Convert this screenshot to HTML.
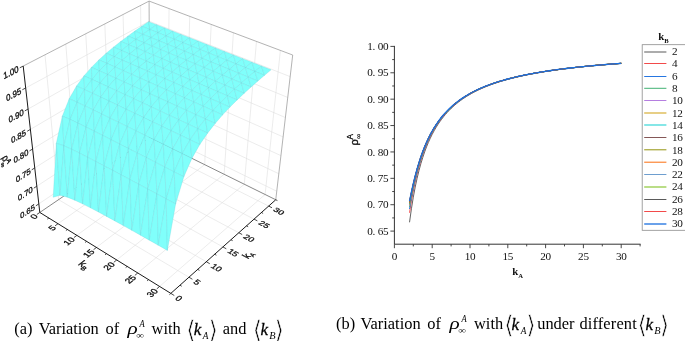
<!DOCTYPE html>
<html lang="en"><head><meta charset="utf-8"><title>Figure</title>
<style>html,body{margin:0;padding:0;background:#fff}svg{display:block}</style></head>
<body>
<svg width="685" height="341" viewBox="0 0 685 341">
<rect width="685" height="341" fill="#fff"/>
<g id="plot3d" fill="none" stroke-linecap="butt">
<line x1="58.02" y1="223.71" x2="167.50" y2="146.30" stroke="#dcdcdc" stroke-width="0.55"/>
<line x1="58.58" y1="199.66" x2="188.97" y2="277.21" stroke="#dcdcdc" stroke-width="0.55"/>
<line x1="76.89" y1="235.37" x2="185.80" y2="155.34" stroke="#dcdcdc" stroke-width="0.55"/>
<line x1="76.62" y1="187.37" x2="206.31" y2="261.73" stroke="#dcdcdc" stroke-width="0.55"/>
<line x1="96.44" y1="247.44" x2="204.68" y2="164.66" stroke="#dcdcdc" stroke-width="0.55"/>
<line x1="93.97" y1="175.55" x2="222.91" y2="246.92" stroke="#dcdcdc" stroke-width="0.55"/>
<line x1="116.71" y1="259.97" x2="224.17" y2="174.28" stroke="#dcdcdc" stroke-width="0.55"/>
<line x1="110.66" y1="164.18" x2="238.80" y2="232.73" stroke="#dcdcdc" stroke-width="0.55"/>
<line x1="137.75" y1="272.96" x2="244.30" y2="184.22" stroke="#dcdcdc" stroke-width="0.55"/>
<line x1="126.74" y1="153.23" x2="254.04" y2="219.13" stroke="#dcdcdc" stroke-width="0.55"/>
<line x1="159.59" y1="286.45" x2="265.10" y2="194.49" stroke="#dcdcdc" stroke-width="0.55"/>
<line x1="142.22" y1="142.68" x2="268.67" y2="206.08" stroke="#dcdcdc" stroke-width="0.55"/>
<line x1="58.58" y1="199.66" x2="45.00" y2="54.80" stroke="#dcdcdc" stroke-width="0.55"/>
<line x1="167.50" y1="146.30" x2="169.07" y2="8.60" stroke="#dcdcdc" stroke-width="0.55"/>
<line x1="76.62" y1="187.37" x2="65.82" y2="44.05" stroke="#dcdcdc" stroke-width="0.55"/>
<line x1="185.80" y1="155.34" x2="189.76" y2="16.37" stroke="#dcdcdc" stroke-width="0.55"/>
<line x1="93.97" y1="175.55" x2="85.74" y2="33.78" stroke="#dcdcdc" stroke-width="0.55"/>
<line x1="204.68" y1="164.66" x2="211.20" y2="24.42" stroke="#dcdcdc" stroke-width="0.55"/>
<line x1="110.66" y1="164.18" x2="104.81" y2="23.94" stroke="#dcdcdc" stroke-width="0.55"/>
<line x1="224.17" y1="174.28" x2="233.42" y2="32.76" stroke="#dcdcdc" stroke-width="0.55"/>
<line x1="126.74" y1="153.23" x2="123.07" y2="14.51" stroke="#dcdcdc" stroke-width="0.55"/>
<line x1="244.30" y1="184.22" x2="256.47" y2="41.42" stroke="#dcdcdc" stroke-width="0.55"/>
<line x1="142.22" y1="142.68" x2="140.59" y2="5.47" stroke="#dcdcdc" stroke-width="0.55"/>
<line x1="265.10" y1="194.49" x2="280.40" y2="50.40" stroke="#dcdcdc" stroke-width="0.55"/>
<line x1="38.83" y1="203.85" x2="149.72" y2="129.40" stroke="#dcdcdc" stroke-width="0.55"/>
<line x1="149.72" y1="129.40" x2="276.76" y2="191.22" stroke="#dcdcdc" stroke-width="0.55"/>
<line x1="36.82" y1="186.20" x2="149.64" y2="112.73" stroke="#dcdcdc" stroke-width="0.55"/>
<line x1="149.64" y1="112.73" x2="278.81" y2="173.73" stroke="#dcdcdc" stroke-width="0.55"/>
<line x1="34.75" y1="167.93" x2="149.55" y2="95.56" stroke="#dcdcdc" stroke-width="0.55"/>
<line x1="149.55" y1="95.56" x2="280.93" y2="155.64" stroke="#dcdcdc" stroke-width="0.55"/>
<line x1="32.60" y1="149.01" x2="149.46" y2="77.84" stroke="#dcdcdc" stroke-width="0.55"/>
<line x1="149.46" y1="77.84" x2="283.12" y2="136.92" stroke="#dcdcdc" stroke-width="0.55"/>
<line x1="30.38" y1="129.40" x2="149.37" y2="59.57" stroke="#dcdcdc" stroke-width="0.55"/>
<line x1="149.37" y1="59.57" x2="285.39" y2="117.54" stroke="#dcdcdc" stroke-width="0.55"/>
<line x1="28.07" y1="109.06" x2="149.28" y2="40.71" stroke="#dcdcdc" stroke-width="0.55"/>
<line x1="149.28" y1="40.71" x2="287.74" y2="97.45" stroke="#dcdcdc" stroke-width="0.55"/>
<line x1="25.68" y1="87.96" x2="149.18" y2="21.22" stroke="#dcdcdc" stroke-width="0.55"/>
<line x1="149.18" y1="21.22" x2="290.18" y2="76.63" stroke="#dcdcdc" stroke-width="0.55"/>
<line x1="23.19" y1="66.05" x2="149.08" y2="1.09" stroke="#999" stroke-width="0.75"/>
<line x1="149.08" y1="1.09" x2="292.71" y2="55.02" stroke="#999" stroke-width="0.75"/>
<line x1="149.08" y1="1.09" x2="149.76" y2="137.54" stroke="#999" stroke-width="0.75"/>
<line x1="292.71" y1="55.02" x2="275.76" y2="199.75" stroke="#999" stroke-width="0.75"/>
<line x1="39.80" y1="212.46" x2="149.76" y2="137.54" stroke="#7a7a7a" stroke-width="0.9"/>
<line x1="149.76" y1="137.54" x2="275.76" y2="199.75" stroke="#7a7a7a" stroke-width="0.9"/>
<g stroke="#6bd4da" stroke-width="0.3" stroke-linejoin="round" fill="#80fffb">
<polygon points="141.78,26.31 149.75,29.46 148.60,21.71"/>
<polygon points="149.75,29.46 156.56,24.81 148.60,21.71"/>
<polygon points="134.86,31.11 142.85,34.31 141.78,26.31"/>
<polygon points="142.85,34.31 149.75,29.46 141.78,26.31"/>
<polygon points="149.75,29.46 157.84,32.68 156.56,24.81"/>
<polygon points="157.84,32.68 164.63,27.98 156.56,24.81"/>
<polygon points="127.85,36.15 135.84,39.40 134.86,31.11"/>
<polygon points="135.84,39.40 142.85,34.31 134.86,31.11"/>
<polygon points="142.85,34.31 150.94,37.58 149.75,29.46"/>
<polygon points="150.94,37.58 157.84,32.68 149.75,29.46"/>
<polygon points="157.84,32.68 166.03,35.95 164.63,27.98"/>
<polygon points="166.03,35.95 172.81,31.19 164.63,27.98"/>
<polygon points="120.73,41.47 128.73,44.77 127.85,36.15"/>
<polygon points="128.73,44.77 135.84,39.40 127.85,36.15"/>
<polygon points="135.84,39.40 143.94,42.73 142.85,34.31"/>
<polygon points="143.94,42.73 150.94,37.58 142.85,34.31"/>
<polygon points="150.94,37.58 159.15,40.91 157.84,32.68"/>
<polygon points="159.15,40.91 166.03,35.95 157.84,32.68"/>
<polygon points="166.03,35.95 174.35,39.27 172.81,31.19"/>
<polygon points="174.35,39.27 181.11,34.45 172.81,31.19"/>
<polygon points="113.52,47.14 121.53,50.50 120.73,41.47"/>
<polygon points="121.53,50.50 128.73,44.77 120.73,41.47"/>
<polygon points="128.73,44.77 136.84,48.17 135.84,39.40"/>
<polygon points="136.84,48.17 143.94,42.73 135.84,39.40"/>
<polygon points="143.94,42.73 152.17,46.12 150.94,37.58"/>
<polygon points="152.17,46.12 159.15,40.91 150.94,37.58"/>
<polygon points="159.15,40.91 167.48,44.29 166.03,35.95"/>
<polygon points="167.48,44.29 174.35,39.27 166.03,35.95"/>
<polygon points="174.35,39.27 182.78,42.63 181.11,34.45"/>
<polygon points="182.78,42.63 189.53,37.76 181.11,34.45"/>
<polygon points="106.23,53.26 114.23,56.66 113.52,47.14"/>
<polygon points="114.23,56.66 121.53,50.50 113.52,47.14"/>
<polygon points="121.53,50.50 129.65,53.95 128.73,44.77"/>
<polygon points="129.65,53.95 136.84,48.17 128.73,44.77"/>
<polygon points="136.84,48.17 145.08,51.62 143.94,42.73"/>
<polygon points="145.08,51.62 152.17,46.12 143.94,42.73"/>
<polygon points="152.17,46.12 160.51,49.56 159.15,40.91"/>
<polygon points="160.51,49.56 167.48,44.29 159.15,40.91"/>
<polygon points="167.48,44.29 175.93,47.72 174.35,39.27"/>
<polygon points="175.93,47.72 182.78,42.63 174.35,39.27"/>
<polygon points="182.78,42.63 191.34,46.05 189.53,37.76"/>
<polygon points="191.34,46.05 198.06,41.12 189.53,37.76"/>
<polygon points="98.86,59.94 106.86,63.39 106.23,53.26"/>
<polygon points="106.86,63.39 114.23,56.66 106.23,53.26"/>
<polygon points="114.23,56.66 122.35,60.18 121.53,50.50"/>
<polygon points="122.35,60.18 129.65,53.95 121.53,50.50"/>
<polygon points="129.65,53.95 137.88,57.47 136.84,48.17"/>
<polygon points="137.88,57.47 145.08,51.62 136.84,48.17"/>
<polygon points="145.08,51.62 153.43,55.12 152.17,46.12"/>
<polygon points="153.43,55.12 160.51,49.56 152.17,46.12"/>
<polygon points="160.51,49.56 168.97,53.05 167.48,44.29"/>
<polygon points="168.97,53.05 175.93,47.72 167.48,44.29"/>
<polygon points="175.93,47.72 184.50,51.20 182.78,42.63"/>
<polygon points="184.50,51.20 191.34,46.05 182.78,42.63"/>
<polygon points="191.34,46.05 200.02,49.52 198.06,41.12"/>
<polygon points="200.02,49.52 206.72,44.52 198.06,41.12"/>
<polygon points="91.43,67.39 99.42,70.88 98.86,59.94"/>
<polygon points="99.42,70.88 106.86,63.39 98.86,59.94"/>
<polygon points="106.86,63.39 114.98,66.97 114.23,56.66"/>
<polygon points="114.98,66.97 122.35,60.18 114.23,56.66"/>
<polygon points="122.35,60.18 130.60,63.76 129.65,53.95"/>
<polygon points="130.60,63.76 137.88,57.47 129.65,53.95"/>
<polygon points="137.88,57.47 146.24,61.04 145.08,51.62"/>
<polygon points="146.24,61.04 153.43,55.12 145.08,51.62"/>
<polygon points="153.43,55.12 161.90,58.68 160.51,49.56"/>
<polygon points="161.90,58.68 168.97,53.05 160.51,49.56"/>
<polygon points="168.97,53.05 177.56,56.60 175.93,47.72"/>
<polygon points="177.56,56.60 184.50,51.20 175.93,47.72"/>
<polygon points="184.50,51.20 193.20,54.74 191.34,46.05"/>
<polygon points="193.20,54.74 200.02,49.52 191.34,46.05"/>
<polygon points="200.02,49.52 208.83,53.04 206.72,44.52"/>
<polygon points="208.83,53.04 215.51,47.98 206.72,44.52"/>
<polygon points="83.97,75.92 91.94,79.44 91.43,67.39"/>
<polygon points="91.94,79.44 99.42,70.88 91.43,67.39"/>
<polygon points="99.42,70.88 107.53,74.52 106.86,63.39"/>
<polygon points="107.53,74.52 114.98,66.97 106.86,63.39"/>
<polygon points="114.98,66.97 123.22,70.62 122.35,60.18"/>
<polygon points="123.22,70.62 130.60,63.76 122.35,60.18"/>
<polygon points="130.60,63.76 138.96,67.40 137.88,57.47"/>
<polygon points="138.96,67.40 146.24,61.04 137.88,57.47"/>
<polygon points="146.24,61.04 154.73,64.67 153.43,55.12"/>
<polygon points="154.73,64.67 161.90,58.68 153.43,55.12"/>
<polygon points="161.90,58.68 170.50,62.30 168.97,53.05"/>
<polygon points="170.50,62.30 177.56,56.60 168.97,53.05"/>
<polygon points="177.56,56.60 186.27,60.20 184.50,51.20"/>
<polygon points="186.27,60.20 193.20,54.74 184.50,51.20"/>
<polygon points="193.20,54.74 202.03,58.32 200.02,49.52"/>
<polygon points="202.03,58.32 208.83,53.04 200.02,49.52"/>
<polygon points="208.83,53.04 217.76,56.61 215.51,47.98"/>
<polygon points="217.76,56.61 224.43,51.49 215.51,47.98"/>
<polygon points="76.55,86.06 84.49,89.58 83.97,75.92"/>
<polygon points="84.49,89.58 91.94,79.44 83.97,75.92"/>
<polygon points="91.94,79.44 100.04,83.14 99.42,70.88"/>
<polygon points="100.04,83.14 107.53,74.52 99.42,70.88"/>
<polygon points="107.53,74.52 115.77,78.24 114.98,66.97"/>
<polygon points="115.77,78.24 123.22,70.62 114.98,66.97"/>
<polygon points="123.22,70.62 131.58,74.33 130.60,63.76"/>
<polygon points="131.58,74.33 138.96,67.40 130.60,63.76"/>
<polygon points="138.96,67.40 147.45,71.10 146.24,61.04"/>
<polygon points="147.45,71.10 154.73,64.67 146.24,61.04"/>
<polygon points="154.73,64.67 163.34,68.35 161.90,58.68"/>
<polygon points="163.34,68.35 170.50,62.30 161.90,58.68"/>
<polygon points="170.50,62.30 179.23,65.97 177.56,56.60"/>
<polygon points="179.23,65.97 186.27,60.20 177.56,56.60"/>
<polygon points="186.27,60.20 195.11,63.86 193.20,54.74"/>
<polygon points="195.11,63.86 202.03,58.32 193.20,54.74"/>
<polygon points="202.03,58.32 210.98,61.96 208.83,53.04"/>
<polygon points="210.98,61.96 217.76,56.61 208.83,53.04"/>
<polygon points="217.76,56.61 226.83,60.24 224.43,51.49"/>
<polygon points="226.83,60.24 233.47,55.04 224.43,51.49"/>
<polygon points="69.26,98.80 77.14,102.26 76.55,86.06"/>
<polygon points="77.14,102.26 84.49,89.58 76.55,86.06"/>
<polygon points="84.49,89.58 92.56,93.33 91.94,79.44"/>
<polygon points="92.56,93.33 100.04,83.14 91.94,79.44"/>
<polygon points="100.04,83.14 108.26,86.93 107.53,74.52"/>
<polygon points="108.26,86.93 115.77,78.24 107.53,74.52"/>
<polygon points="115.77,78.24 124.13,82.03 123.22,70.62"/>
<polygon points="124.13,82.03 131.58,74.33 123.22,70.62"/>
<polygon points="131.58,74.33 140.07,78.10 138.96,67.40"/>
<polygon points="140.07,78.10 147.45,71.10 138.96,67.40"/>
<polygon points="147.45,71.10 156.07,74.86 154.73,64.67"/>
<polygon points="156.07,74.86 163.34,68.35 154.73,64.67"/>
<polygon points="163.34,68.35 172.08,72.09 170.50,62.30"/>
<polygon points="172.08,72.09 179.23,65.97 170.50,62.30"/>
<polygon points="179.23,65.97 188.09,69.69 186.27,60.20"/>
<polygon points="188.09,69.69 195.11,63.86 186.27,60.20"/>
<polygon points="195.11,63.86 204.09,67.56 202.03,58.32"/>
<polygon points="204.09,67.56 210.98,61.96 202.03,58.32"/>
<polygon points="210.98,61.96 220.08,65.66 217.76,56.61"/>
<polygon points="220.08,65.66 226.83,60.24 217.76,56.61"/>
<polygon points="226.83,60.24 236.04,63.92 233.47,55.04"/>
<polygon points="236.04,63.92 242.66,58.66 233.47,55.04"/>
<polygon points="62.33,116.19 70.11,119.42 69.26,98.80"/>
<polygon points="70.11,119.42 77.14,102.26 69.26,98.80"/>
<polygon points="77.14,102.26 85.17,106.05 84.49,89.58"/>
<polygon points="85.17,106.05 92.56,93.33 84.49,89.58"/>
<polygon points="92.56,93.33 100.76,97.20 100.04,83.14"/>
<polygon points="100.76,97.20 108.26,86.93 100.04,83.14"/>
<polygon points="108.26,86.93 116.61,90.79 115.77,78.24"/>
<polygon points="116.61,90.79 124.13,82.03 115.77,78.24"/>
<polygon points="124.13,82.03 132.61,85.88 131.58,74.33"/>
<polygon points="132.61,85.88 140.07,78.10 131.58,74.33"/>
<polygon points="140.07,78.10 148.69,81.94 147.45,71.10"/>
<polygon points="148.69,81.94 156.07,74.86 147.45,71.10"/>
<polygon points="156.07,74.86 164.81,78.67 163.34,68.35"/>
<polygon points="164.81,78.67 172.08,72.09 163.34,68.35"/>
<polygon points="172.08,72.09 180.95,75.89 179.23,65.97"/>
<polygon points="180.95,75.89 188.09,69.69 179.23,65.97"/>
<polygon points="188.09,69.69 197.08,73.47 195.11,63.86"/>
<polygon points="197.08,73.47 204.09,67.56 195.11,63.86"/>
<polygon points="204.09,67.56 213.20,71.33 210.98,61.96"/>
<polygon points="213.20,71.33 220.08,65.66 210.98,61.96"/>
<polygon points="220.08,65.66 229.31,69.41 226.83,60.24"/>
<polygon points="229.31,69.41 236.04,63.92 226.83,60.24"/>
<polygon points="236.04,63.92 245.38,67.66 242.66,58.66"/>
<polygon points="245.38,67.66 251.97,62.32 242.66,58.66"/>
<polygon points="56.33,143.31 63.90,145.75 62.33,116.19"/>
<polygon points="63.90,145.75 70.11,119.42 62.33,116.19"/>
<polygon points="70.11,119.42 78.06,123.19 77.14,102.26"/>
<polygon points="78.06,123.19 85.17,106.05 77.14,102.26"/>
<polygon points="85.17,106.05 93.32,109.98 92.56,93.33"/>
<polygon points="93.32,109.98 100.76,97.20 92.56,93.33"/>
<polygon points="100.76,97.20 109.08,101.14 108.26,86.93"/>
<polygon points="109.08,101.14 116.61,90.79 108.26,86.93"/>
<polygon points="116.61,90.79 125.09,94.73 124.13,82.03"/>
<polygon points="125.09,94.73 132.61,85.88 124.13,82.03"/>
<polygon points="132.61,85.88 141.23,89.79 140.07,78.10"/>
<polygon points="141.23,89.79 148.69,81.94 140.07,78.10"/>
<polygon points="148.69,81.94 157.44,85.83 156.07,74.86"/>
<polygon points="157.44,85.83 164.81,78.67 156.07,74.86"/>
<polygon points="164.81,78.67 173.69,82.55 172.08,72.09"/>
<polygon points="173.69,82.55 180.95,75.89 172.08,72.09"/>
<polygon points="180.95,75.89 189.95,79.75 188.09,69.69"/>
<polygon points="189.95,79.75 197.08,73.47 188.09,69.69"/>
<polygon points="197.08,73.47 206.21,77.31 204.09,67.56"/>
<polygon points="206.21,77.31 213.20,71.33 204.09,67.56"/>
<polygon points="213.20,71.33 222.45,75.15 220.08,65.66"/>
<polygon points="222.45,75.15 229.31,69.41 220.08,65.66"/>
<polygon points="229.31,69.41 238.68,73.21 236.04,63.92"/>
<polygon points="238.68,73.21 245.38,67.66 236.04,63.92"/>
<polygon points="245.38,67.66 254.87,71.45 251.97,62.32"/>
<polygon points="254.87,71.45 261.43,66.05 251.97,62.32"/>
<polygon points="53.19,197.25 60.00,195.26 56.33,143.31"/>
<polygon points="60.00,195.26 63.90,145.75 56.33,143.31"/>
<polygon points="63.90,145.75 71.68,149.30 70.11,119.42"/>
<polygon points="71.68,149.30 78.06,123.19 70.11,119.42"/>
<polygon points="78.06,123.19 86.13,127.16 85.17,106.05"/>
<polygon points="86.13,127.16 93.32,109.98 85.17,106.05"/>
<polygon points="93.32,109.98 101.60,114.00 100.76,97.20"/>
<polygon points="101.60,114.00 109.08,101.14 100.76,97.20"/>
<polygon points="109.08,101.14 117.53,105.16 116.61,90.79"/>
<polygon points="117.53,105.16 125.09,94.73 116.61,90.79"/>
<polygon points="125.09,94.73 133.69,98.72 132.61,85.88"/>
<polygon points="133.69,98.72 141.23,89.79 132.61,85.88"/>
<polygon points="141.23,89.79 149.98,93.77 148.69,81.94"/>
<polygon points="149.98,93.77 157.44,85.83 148.69,81.94"/>
<polygon points="157.44,85.83 166.33,89.79 164.81,78.67"/>
<polygon points="166.33,89.79 173.69,82.55 164.81,78.67"/>
<polygon points="173.69,82.55 182.71,86.48 180.95,75.89"/>
<polygon points="182.71,86.48 189.95,79.75 180.95,75.89"/>
<polygon points="189.95,79.75 199.10,83.66 197.08,73.47"/>
<polygon points="199.10,83.66 206.21,77.31 197.08,73.47"/>
<polygon points="206.21,77.31 215.48,81.21 213.20,71.33"/>
<polygon points="215.48,81.21 222.45,75.15 213.20,71.33"/>
<polygon points="222.45,75.15 231.85,79.04 229.31,69.41"/>
<polygon points="231.85,79.04 238.68,73.21 229.31,69.41"/>
<polygon points="238.68,73.21 248.19,77.08 245.38,67.66"/>
<polygon points="248.19,77.08 254.87,71.45 245.38,67.66"/>
<polygon points="254.87,71.45 264.50,75.30 261.43,66.05"/>
<polygon points="264.50,75.30 271.04,69.82 261.43,66.05"/>
<polygon points="60.00,195.26 67.33,197.15 63.90,145.75"/>
<polygon points="67.33,197.15 71.68,149.30 63.90,145.75"/>
<polygon points="71.68,149.30 79.60,153.21 78.06,123.19"/>
<polygon points="79.60,153.21 86.13,127.16 78.06,123.19"/>
<polygon points="86.13,127.16 94.34,131.26 93.32,109.98"/>
<polygon points="94.34,131.26 101.60,114.00 93.32,109.98"/>
<polygon points="101.60,114.00 110.01,118.11 109.08,101.14"/>
<polygon points="110.01,118.11 117.53,105.16 109.08,101.14"/>
<polygon points="117.53,105.16 126.11,109.25 125.09,94.73"/>
<polygon points="126.11,109.25 133.69,98.72 125.09,94.73"/>
<polygon points="133.69,98.72 142.43,102.79 141.23,89.79"/>
<polygon points="142.43,102.79 149.98,93.77 141.23,89.79"/>
<polygon points="149.98,93.77 158.86,97.81 157.44,85.83"/>
<polygon points="158.86,97.81 166.33,89.79 157.44,85.83"/>
<polygon points="166.33,89.79 175.35,93.81 173.69,82.55"/>
<polygon points="175.35,93.81 182.71,86.48 173.69,82.55"/>
<polygon points="182.71,86.48 191.86,90.48 189.95,79.75"/>
<polygon points="191.86,90.48 199.10,83.66 189.95,79.75"/>
<polygon points="199.10,83.66 208.38,87.64 206.21,77.31"/>
<polygon points="208.38,87.64 215.48,81.21 206.21,77.31"/>
<polygon points="215.48,81.21 224.89,85.17 222.45,75.15"/>
<polygon points="224.89,85.17 231.85,79.04 222.45,75.15"/>
<polygon points="231.85,79.04 241.38,82.98 238.68,73.21"/>
<polygon points="241.38,82.98 248.19,77.08 238.68,73.21"/>
<polygon points="248.19,77.08 257.85,81.01 254.87,71.45"/>
<polygon points="257.85,81.01 264.50,75.30 254.87,71.45"/>
<polygon points="67.33,197.15 74.89,200.22 71.68,149.30"/>
<polygon points="74.89,200.22 79.60,153.21 71.68,149.30"/>
<polygon points="79.60,153.21 87.66,157.32 86.13,127.16"/>
<polygon points="87.66,157.32 94.34,131.26 86.13,127.16"/>
<polygon points="94.34,131.26 102.67,135.45 101.60,114.00"/>
<polygon points="102.67,135.45 110.01,118.11 101.60,114.00"/>
<polygon points="110.01,118.11 118.55,122.29 117.53,105.16"/>
<polygon points="118.55,122.29 126.11,109.25 117.53,105.16"/>
<polygon points="126.11,109.25 134.82,113.40 133.69,98.72"/>
<polygon points="134.82,113.40 142.43,102.79 133.69,98.72"/>
<polygon points="142.43,102.79 151.30,106.92 149.98,93.77"/>
<polygon points="151.30,106.92 158.86,97.81 149.98,93.77"/>
<polygon points="158.86,97.81 167.88,101.91 166.33,89.79"/>
<polygon points="167.88,101.91 175.35,93.81 166.33,89.79"/>
<polygon points="175.35,93.81 184.51,97.89 182.71,86.48"/>
<polygon points="184.51,97.89 191.86,90.48 182.71,86.48"/>
<polygon points="191.86,90.48 201.16,94.54 199.10,83.66"/>
<polygon points="201.16,94.54 208.38,87.64 199.10,83.66"/>
<polygon points="208.38,87.64 217.81,91.68 215.48,81.21"/>
<polygon points="217.81,91.68 224.89,85.17 215.48,81.21"/>
<polygon points="224.89,85.17 234.45,89.19 231.85,79.04"/>
<polygon points="234.45,89.19 241.38,82.98 231.85,79.04"/>
<polygon points="241.38,82.98 251.07,86.98 248.19,77.08"/>
<polygon points="251.07,86.98 257.85,81.01 248.19,77.08"/>
<polygon points="74.89,200.22 82.61,203.86 79.60,153.21"/>
<polygon points="82.61,203.86 87.66,157.32 79.60,153.21"/>
<polygon points="87.66,157.32 95.85,161.57 94.34,131.26"/>
<polygon points="95.85,161.57 102.67,135.45 94.34,131.26"/>
<polygon points="102.67,135.45 111.13,139.73 110.01,118.11"/>
<polygon points="111.13,139.73 118.55,122.29 110.01,118.11"/>
<polygon points="118.55,122.29 127.22,126.54 126.11,109.25"/>
<polygon points="127.22,126.54 134.82,113.40 126.11,109.25"/>
<polygon points="134.82,113.40 143.67,117.63 142.43,102.79"/>
<polygon points="143.67,117.63 151.30,106.92 142.43,102.79"/>
<polygon points="151.30,106.92 160.31,111.11 158.86,97.81"/>
<polygon points="160.31,111.11 167.88,101.91 158.86,97.81"/>
<polygon points="167.88,101.91 177.04,106.08 175.35,93.81"/>
<polygon points="177.04,106.08 184.51,97.89 175.35,93.81"/>
<polygon points="184.51,97.89 193.81,102.03 191.86,90.48"/>
<polygon points="193.81,102.03 201.16,94.54 191.86,90.48"/>
<polygon points="201.16,94.54 210.60,98.66 208.38,87.64"/>
<polygon points="210.60,98.66 217.81,91.68 208.38,87.64"/>
<polygon points="217.81,91.68 227.39,95.79 224.89,85.17"/>
<polygon points="227.39,95.79 234.45,89.19 224.89,85.17"/>
<polygon points="234.45,89.19 244.16,93.28 241.38,82.98"/>
<polygon points="244.16,93.28 251.07,86.98 241.38,82.98"/>
<polygon points="82.61,203.86 90.48,207.83 87.66,157.32"/>
<polygon points="90.48,207.83 95.85,161.57 87.66,157.32"/>
<polygon points="95.85,161.57 104.17,165.93 102.67,135.45"/>
<polygon points="104.17,165.93 111.13,139.73 102.67,135.45"/>
<polygon points="111.13,139.73 119.72,144.09 118.55,122.29"/>
<polygon points="119.72,144.09 127.22,126.54 118.55,122.29"/>
<polygon points="127.22,126.54 136.02,130.87 134.82,113.40"/>
<polygon points="136.02,130.87 143.67,117.63 134.82,113.40"/>
<polygon points="143.67,117.63 152.66,121.92 151.30,106.92"/>
<polygon points="152.66,121.92 160.31,111.11 151.30,106.92"/>
<polygon points="160.31,111.11 169.46,115.37 167.88,101.91"/>
<polygon points="169.46,115.37 177.04,106.08 167.88,101.91"/>
<polygon points="177.04,106.08 186.35,110.32 184.51,97.89"/>
<polygon points="186.35,110.32 193.81,102.03 184.51,97.89"/>
<polygon points="193.81,102.03 203.27,106.24 201.16,94.54"/>
<polygon points="203.27,106.24 210.60,98.66 201.16,94.54"/>
<polygon points="210.60,98.66 220.20,102.85 217.81,91.68"/>
<polygon points="220.20,102.85 227.39,95.79 217.81,91.68"/>
<polygon points="227.39,95.79 237.12,99.95 234.45,89.19"/>
<polygon points="237.12,99.95 244.16,93.28 234.45,89.19"/>
<polygon points="90.48,207.83 98.49,212.02 95.85,161.57"/>
<polygon points="98.49,212.02 104.17,165.93 95.85,161.57"/>
<polygon points="104.17,165.93 112.62,170.38 111.13,139.73"/>
<polygon points="112.62,170.38 119.72,144.09 111.13,139.73"/>
<polygon points="119.72,144.09 128.45,148.53 127.22,126.54"/>
<polygon points="128.45,148.53 136.02,130.87 127.22,126.54"/>
<polygon points="136.02,130.87 144.97,135.27 143.67,117.63"/>
<polygon points="144.97,135.27 152.66,121.92 143.67,117.63"/>
<polygon points="152.66,121.92 161.79,126.28 160.31,111.11"/>
<polygon points="161.79,126.28 169.46,115.37 160.31,111.11"/>
<polygon points="169.46,115.37 178.76,119.71 177.04,106.08"/>
<polygon points="178.76,119.71 186.35,110.32 177.04,106.08"/>
<polygon points="186.35,110.32 195.80,114.62 193.81,102.03"/>
<polygon points="195.80,114.62 203.27,106.24 193.81,102.03"/>
<polygon points="203.27,106.24 212.87,110.52 210.60,98.66"/>
<polygon points="212.87,110.52 220.20,102.85 210.60,98.66"/>
<polygon points="220.20,102.85 229.94,107.11 227.39,95.79"/>
<polygon points="229.94,107.11 237.12,99.95 227.39,95.79"/>
<polygon points="98.49,212.02 106.63,216.40 104.17,165.93"/>
<polygon points="106.63,216.40 112.62,170.38 104.17,165.93"/>
<polygon points="112.62,170.38 121.20,174.93 119.72,144.09"/>
<polygon points="121.20,174.93 128.45,148.53 119.72,144.09"/>
<polygon points="128.45,148.53 137.32,153.04 136.02,130.87"/>
<polygon points="137.32,153.04 144.97,135.27 136.02,130.87"/>
<polygon points="144.97,135.27 154.05,139.74 152.66,121.92"/>
<polygon points="154.05,139.74 161.79,126.28 152.66,121.92"/>
<polygon points="161.79,126.28 171.06,130.71 169.46,115.37"/>
<polygon points="171.06,130.71 178.76,119.71 169.46,115.37"/>
<polygon points="178.76,119.71 188.21,124.11 186.35,110.32"/>
<polygon points="188.21,124.11 195.80,114.62 186.35,110.32"/>
<polygon points="195.80,114.62 205.41,118.99 203.27,106.24"/>
<polygon points="205.41,118.99 212.87,110.52 203.27,106.24"/>
<polygon points="212.87,110.52 222.63,114.87 220.20,102.85"/>
<polygon points="222.63,114.87 229.94,107.11 220.20,102.85"/>
<polygon points="106.63,216.40 114.90,220.92 112.62,170.38"/>
<polygon points="114.90,220.92 121.20,174.93 112.62,170.38"/>
<polygon points="121.20,174.93 129.92,179.56 128.45,148.53"/>
<polygon points="129.92,179.56 137.32,153.04 128.45,148.53"/>
<polygon points="137.32,153.04 146.33,157.63 144.97,135.27"/>
<polygon points="146.33,157.63 154.05,139.74 144.97,135.27"/>
<polygon points="154.05,139.74 163.29,144.28 161.79,126.28"/>
<polygon points="163.29,144.28 171.06,130.71 161.79,126.28"/>
<polygon points="171.06,130.71 180.49,135.22 178.76,119.71"/>
<polygon points="180.49,135.22 188.21,124.11 178.76,119.71"/>
<polygon points="188.21,124.11 197.80,128.58 195.80,114.62"/>
<polygon points="197.80,128.58 205.41,118.99 195.80,114.62"/>
<polygon points="205.41,118.99 215.17,123.44 212.87,110.52"/>
<polygon points="215.17,123.44 222.63,114.87 212.87,110.52"/>
<polygon points="114.90,220.92 123.30,225.56 121.20,174.93"/>
<polygon points="123.30,225.56 129.92,179.56 121.20,174.93"/>
<polygon points="129.92,179.56 138.77,184.28 137.32,153.04"/>
<polygon points="138.77,184.28 146.33,157.63 137.32,153.04"/>
<polygon points="146.33,157.63 155.48,162.30 154.05,139.74"/>
<polygon points="155.48,162.30 163.29,144.28 154.05,139.74"/>
<polygon points="163.29,144.28 172.67,148.91 171.06,130.71"/>
<polygon points="172.67,148.91 180.49,135.22 171.06,130.71"/>
<polygon points="180.49,135.22 190.07,139.80 188.21,124.11"/>
<polygon points="190.07,139.80 197.80,128.58 188.21,124.11"/>
<polygon points="197.80,128.58 207.56,133.13 205.41,118.99"/>
<polygon points="207.56,133.13 215.17,123.44 205.41,118.99"/>
<polygon points="123.30,225.56 131.84,230.32 129.92,179.56"/>
<polygon points="131.84,230.32 138.77,184.28 129.92,179.56"/>
<polygon points="138.77,184.28 147.76,189.08 146.33,157.63"/>
<polygon points="147.76,189.08 155.48,162.30 146.33,157.63"/>
<polygon points="155.48,162.30 164.78,167.04 163.29,144.28"/>
<polygon points="164.78,167.04 172.67,148.91 163.29,144.28"/>
<polygon points="172.67,148.91 182.20,153.60 180.49,135.22"/>
<polygon points="182.20,153.60 190.07,139.80 180.49,135.22"/>
<polygon points="190.07,139.80 199.80,144.46 197.80,128.58"/>
<polygon points="199.80,144.46 207.56,133.13 197.80,128.58"/>
<polygon points="131.84,230.32 140.50,235.19 138.77,184.28"/>
<polygon points="140.50,235.19 147.76,189.08 138.77,184.28"/>
<polygon points="147.76,189.08 156.90,193.96 155.48,162.30"/>
<polygon points="156.90,193.96 164.78,167.04 155.48,162.30"/>
<polygon points="164.78,167.04 174.22,171.87 172.67,148.91"/>
<polygon points="174.22,171.87 182.20,153.60 172.67,148.91"/>
<polygon points="182.20,153.60 191.89,158.38 190.07,139.80"/>
<polygon points="191.89,158.38 199.80,144.46 190.07,139.80"/>
<polygon points="140.50,235.19 149.31,240.15 147.76,189.08"/>
<polygon points="149.31,240.15 156.90,193.96 147.76,189.08"/>
<polygon points="156.90,193.96 166.19,198.93 164.78,167.04"/>
<polygon points="166.19,198.93 174.22,171.87 164.78,167.04"/>
<polygon points="174.22,171.87 183.83,176.78 182.20,153.60"/>
<polygon points="183.83,176.78 191.89,158.38 182.20,153.60"/>
<polygon points="149.31,240.15 158.26,245.22 156.90,193.96"/>
<polygon points="158.26,245.22 166.19,198.93 156.90,193.96"/>
<polygon points="166.19,198.93 175.62,203.98 174.22,171.87"/>
<polygon points="175.62,203.98 183.83,176.78 174.22,171.87"/>
<polygon points="158.26,245.22 167.35,250.39 166.19,198.93"/>
<polygon points="167.35,250.39 175.62,203.98 166.19,198.93"/>
</g>
<line x1="39.80" y1="212.46" x2="23.19" y2="66.05" stroke="#1a1a1a" stroke-width="1.0"/>
<line x1="39.80" y1="212.46" x2="170.83" y2="293.39" stroke="#1a1a1a" stroke-width="1.0"/>
<line x1="170.83" y1="293.39" x2="275.76" y2="199.75" stroke="#1a1a1a" stroke-width="1.0"/>
<line x1="39.80" y1="212.46" x2="36.88" y2="214.45" stroke="#1a1a1a" stroke-width="0.8"/>
<line x1="170.83" y1="293.39" x2="174.29" y2="295.53" stroke="#1a1a1a" stroke-width="0.8"/>
<line x1="48.83" y1="218.04" x2="47.37" y2="219.05" stroke="#1a1a1a" stroke-width="0.8"/>
<line x1="180.00" y1="285.21" x2="181.72" y2="286.25" stroke="#1a1a1a" stroke-width="0.8"/>
<line x1="58.02" y1="223.71" x2="55.10" y2="225.77" stroke="#1a1a1a" stroke-width="0.8"/>
<line x1="188.97" y1="277.21" x2="192.40" y2="279.25" stroke="#1a1a1a" stroke-width="0.8"/>
<line x1="67.37" y1="229.49" x2="65.92" y2="230.54" stroke="#1a1a1a" stroke-width="0.8"/>
<line x1="197.74" y1="269.38" x2="199.45" y2="270.38" stroke="#1a1a1a" stroke-width="0.8"/>
<line x1="76.89" y1="235.37" x2="73.98" y2="237.50" stroke="#1a1a1a" stroke-width="0.8"/>
<line x1="206.31" y1="261.73" x2="209.72" y2="263.68" stroke="#1a1a1a" stroke-width="0.8"/>
<line x1="86.58" y1="241.35" x2="85.13" y2="242.44" stroke="#1a1a1a" stroke-width="0.8"/>
<line x1="214.70" y1="254.24" x2="216.40" y2="255.20" stroke="#1a1a1a" stroke-width="0.8"/>
<line x1="96.44" y1="247.44" x2="93.54" y2="249.66" stroke="#1a1a1a" stroke-width="0.8"/>
<line x1="222.91" y1="246.92" x2="226.29" y2="248.79" stroke="#1a1a1a" stroke-width="0.8"/>
<line x1="106.48" y1="253.65" x2="105.04" y2="254.77" stroke="#1a1a1a" stroke-width="0.8"/>
<line x1="230.94" y1="239.75" x2="232.62" y2="240.67" stroke="#1a1a1a" stroke-width="0.8"/>
<line x1="116.71" y1="259.97" x2="113.83" y2="262.27" stroke="#1a1a1a" stroke-width="0.8"/>
<line x1="238.80" y1="232.73" x2="242.16" y2="234.53" stroke="#1a1a1a" stroke-width="0.8"/>
<line x1="127.13" y1="266.40" x2="125.70" y2="267.57" stroke="#1a1a1a" stroke-width="0.8"/>
<line x1="246.50" y1="225.86" x2="248.17" y2="226.74" stroke="#1a1a1a" stroke-width="0.8"/>
<line x1="137.75" y1="272.96" x2="134.88" y2="275.35" stroke="#1a1a1a" stroke-width="0.8"/>
<line x1="254.04" y1="219.13" x2="257.37" y2="220.85" stroke="#1a1a1a" stroke-width="0.8"/>
<line x1="148.57" y1="279.64" x2="147.14" y2="280.86" stroke="#1a1a1a" stroke-width="0.8"/>
<line x1="261.43" y1="212.54" x2="263.08" y2="213.38" stroke="#1a1a1a" stroke-width="0.8"/>
<line x1="159.59" y1="286.45" x2="156.74" y2="288.93" stroke="#1a1a1a" stroke-width="0.8"/>
<line x1="268.67" y1="206.08" x2="271.96" y2="207.74" stroke="#1a1a1a" stroke-width="0.8"/>
<line x1="170.83" y1="293.39" x2="169.41" y2="294.66" stroke="#1a1a1a" stroke-width="0.8"/>
<line x1="275.76" y1="199.75" x2="277.40" y2="200.56" stroke="#1a1a1a" stroke-width="0.8"/>
<line x1="38.83" y1="203.85" x2="35.87" y2="205.84" stroke="#1a1a1a" stroke-width="0.8"/>
<line x1="36.82" y1="186.20" x2="33.81" y2="188.16" stroke="#1a1a1a" stroke-width="0.8"/>
<line x1="34.75" y1="167.93" x2="31.68" y2="169.86" stroke="#1a1a1a" stroke-width="0.8"/>
<line x1="32.60" y1="149.01" x2="29.47" y2="150.91" stroke="#1a1a1a" stroke-width="0.8"/>
<line x1="30.38" y1="129.40" x2="27.18" y2="131.27" stroke="#1a1a1a" stroke-width="0.8"/>
<line x1="28.07" y1="109.06" x2="24.81" y2="110.90" stroke="#1a1a1a" stroke-width="0.8"/>
<line x1="25.68" y1="87.96" x2="22.35" y2="89.76" stroke="#1a1a1a" stroke-width="0.8"/>
<line x1="23.19" y1="66.05" x2="19.79" y2="67.81" stroke="#1a1a1a" stroke-width="0.8"/>
</g>
<g font-family="'Liberation Sans', Arial, sans-serif" fill="#111" stroke="#111" stroke-width="0.33">
<text transform="matrix(0.8737 -0.5867 0.1057 0.8981 34.78 206.57)" font-size="8.6" text-anchor="end" y="3.01">0.65</text>
<text transform="matrix(0.8772 -0.5712 0.1077 0.9152 32.70 188.88)" font-size="8.6" text-anchor="end" y="3.01">0.70</text>
<text transform="matrix(0.8807 -0.5552 0.1098 0.9329 30.55 170.58)" font-size="8.6" text-anchor="end" y="3.01">0.75</text>
<text transform="matrix(0.8844 -0.5385 0.1120 0.9513 28.32 151.62)" font-size="8.6" text-anchor="end" y="3.01">0.80</text>
<text transform="matrix(0.8881 -0.5211 0.1142 0.9704 26.00 131.96)" font-size="8.6" text-anchor="end" y="3.01">0.85</text>
<text transform="matrix(0.8920 -0.5030 0.1165 0.9902 23.61 111.58)" font-size="8.6" text-anchor="end" y="3.01">0.90</text>
<text transform="matrix(0.8960 -0.4842 0.1190 1.0109 21.12 90.43)" font-size="8.6" text-anchor="end" y="3.01">0.95</text>
<text transform="matrix(0.9001 -0.4645 0.1215 1.0324 18.53 68.46)" font-size="8.6" text-anchor="end" y="3.01">1.00</text>
<text transform="matrix(0.8880 -0.6050 0.8232 0.5125 35.92 215.10)" font-size="8.6" text-anchor="end" y="3.01">0</text>
<text transform="matrix(0.8667 -0.6128 0.8337 0.5190 54.15 226.45)" font-size="8.6" text-anchor="end" y="3.01">5</text>
<text transform="matrix(0.8448 -0.6208 0.8445 0.5257 73.03 238.20)" font-size="8.6" text-anchor="end" y="3.01">10</text>
<text transform="matrix(0.8225 -0.6290 0.8556 0.5327 92.60 250.38)" font-size="8.6" text-anchor="end" y="3.01">15</text>
<text transform="matrix(0.7995 -0.6376 0.8671 0.5398 112.89 263.02)" font-size="8.6" text-anchor="end" y="3.01">20</text>
<text transform="matrix(0.7761 -0.6464 0.8789 0.5472 133.95 276.13)" font-size="8.6" text-anchor="end" y="3.01">25</text>
<text transform="matrix(0.7520 -0.6554 0.8911 0.5548 155.82 289.74)" font-size="8.6" text-anchor="end" y="3.01">30</text>
<text transform="matrix(0.9109 0.5627 -0.7357 0.6648 176.76 297.06)" font-size="8.6" text-anchor="start" y="3.01">0</text>
<text transform="matrix(0.9196 0.5469 -0.7150 0.6461 194.85 280.71)" font-size="8.6" text-anchor="start" y="3.01">5</text>
<text transform="matrix(0.9277 0.5319 -0.6953 0.6283 212.15 265.08)" font-size="8.6" text-anchor="start" y="3.01">10</text>
<text transform="matrix(0.9352 0.5177 -0.6766 0.6113 228.70 250.12)" font-size="8.6" text-anchor="start" y="3.01">15</text>
<text transform="matrix(0.9422 0.5041 -0.6587 0.5952 244.55 235.81)" font-size="8.6" text-anchor="start" y="3.01">20</text>
<text transform="matrix(0.9487 0.4911 -0.6417 0.5798 259.74 222.08)" font-size="8.6" text-anchor="start" y="3.01">25</text>
<text transform="matrix(0.9547 0.4788 -0.6254 0.5651 274.31 208.91)" font-size="8.6" text-anchor="start" y="3.01">30</text>
<text transform="matrix(0.8499 0.5449 -0.8314 0.6436 84.00 265.20)" font-size="10.3" text-anchor="middle" y="3.09">k<tspan font-size="6.5" dy="2">B</tspan></text>
<text transform="matrix(0.6839 -0.6389 0.9860 0.5410 248.20 254.90)" font-size="9.5" text-anchor="middle" y="2.85">k<tspan font-size="6" dy="2">A</tspan></text>
<text transform="matrix(0.1372 0.9801 -0.9408 0.5680 5.50 160.50)" font-size="9.5" text-anchor="middle" y="2.85">ρ<tspan font-size="6" dy="-4">A</tspan><tspan font-size="6.5" dy="6.5" dx="-4.2">∞</tspan></text>
</g>
<g id="plot2d" fill="none">
<polyline points="409.52,222.30 411.41,208.77 413.30,197.18 415.19,187.12 417.08,178.33 418.97,170.57 420.86,163.67 422.75,157.50 424.64,151.94 426.53,146.92 428.42,142.35 430.31,138.18 432.20,134.35 434.09,130.83 435.98,127.59 437.87,124.58 439.76,121.79 441.65,119.19 443.54,116.76 445.43,114.49 447.32,112.36 449.21,110.37 451.10,108.48 452.99,106.71 454.88,105.03 456.77,103.45 458.66,101.95 460.55,100.52 462.44,99.17 464.33,97.88 466.22,96.66 468.11,95.49 470.00,94.37 471.89,93.31 473.78,92.29 475.67,91.31 477.56,90.38 479.45,89.48 481.34,88.62 483.23,87.79 485.12,86.99 487.01,86.23 488.90,85.49 490.79,84.78 492.68,84.09 494.57,83.43 496.46,82.79 498.35,82.18 500.24,81.58 502.13,81.00 504.02,80.45 505.91,79.91 507.80,79.38 509.69,78.87 511.58,78.38 513.47,77.91 515.36,77.44 517.25,76.99 519.14,76.56 521.03,76.13 522.92,75.72 524.81,75.32 526.70,74.93 528.59,74.54 530.48,74.17 532.37,73.81 534.26,73.46 536.15,73.12 538.04,72.79 539.93,72.46 541.82,72.14 543.71,71.83 545.60,71.53 547.49,71.23 549.38,70.94 551.27,70.66 553.16,70.39 555.05,70.12 556.94,69.85 558.83,69.60 560.72,69.34 562.61,69.10 564.50,68.86 566.39,68.62 568.28,68.39 570.17,68.16 572.06,67.94 573.95,67.72 575.84,67.51 577.73,67.30 579.62,67.09 581.51,66.89 583.40,66.70 585.29,66.50 587.18,66.31 589.07,66.13 590.96,65.94 592.85,65.77 594.74,65.59 596.63,65.42 598.52,65.25 600.41,65.08 602.30,64.92 604.19,64.76 606.08,64.60 607.97,64.44 609.86,64.29 611.75,64.14 613.64,63.99 615.53,63.85 617.42,63.70 619.31,63.56 621.20,63.42" stroke="#515151" stroke-width="0.9" stroke-linejoin="round"/>
<polyline points="409.52,212.77 411.41,201.24 413.30,191.07 415.19,182.08 417.08,174.09 418.97,166.96 420.86,160.56 422.75,154.79 424.64,149.56 426.53,144.81 428.42,140.46 430.31,136.49 432.20,132.83 434.09,129.45 435.98,126.33 437.87,123.43 439.76,120.73 441.65,118.21 443.54,115.86 445.43,113.66 447.32,111.59 449.21,109.64 451.10,107.81 452.99,106.08 454.88,104.44 456.77,102.89 458.66,101.42 460.55,100.03 462.44,98.70 464.33,97.44 466.22,96.24 468.11,95.09 470.00,93.99 471.89,92.94 473.78,91.94 475.67,90.98 477.56,90.06 479.45,89.18 481.34,88.33 483.23,87.51 485.12,86.73 487.01,85.97 488.90,85.25 490.79,84.54 492.68,83.87 494.57,83.22 496.46,82.58 498.35,81.98 500.24,81.39 502.13,80.82 504.02,80.26 505.91,79.73 507.80,79.21 509.69,78.71 511.58,78.22 513.47,77.75 515.36,77.29 517.25,76.85 519.14,76.42 521.03,75.99 522.92,75.59 524.81,75.19 526.70,74.80 528.59,74.42 530.48,74.06 532.37,73.70 534.26,73.35 536.15,73.01 538.04,72.68 539.93,72.36 541.82,72.04 543.71,71.73 545.60,71.43 547.49,71.14 549.38,70.85 551.27,70.57 553.16,70.30 555.05,70.03 556.94,69.77 558.83,69.52 560.72,69.27 562.61,69.02 564.50,68.78 566.39,68.55 568.28,68.32 570.17,68.09 572.06,67.87 573.95,67.65 575.84,67.44 577.73,67.23 579.62,67.03 581.51,66.83 583.40,66.64 585.29,66.44 587.18,66.26 589.07,66.07 590.96,65.89 592.85,65.71 594.74,65.54 596.63,65.36 598.52,65.19 600.41,65.03 602.30,64.87 604.19,64.71 606.08,64.55 607.97,64.39 609.86,64.24 611.75,64.09 613.64,63.95 615.53,63.80 617.42,63.66 619.31,63.52 621.20,63.38" stroke="#F14040" stroke-width="0.9" stroke-linejoin="round"/>
<polyline points="409.52,209.00 411.41,198.26 413.30,188.66 415.19,180.09 417.08,172.41 418.97,165.53 420.86,159.32 422.75,153.71 424.64,148.62 426.53,143.97 428.42,139.72 430.31,135.82 432.20,132.22 434.09,128.90 435.98,125.83 437.87,122.97 439.76,120.31 441.65,117.83 443.54,115.50 445.43,113.32 447.32,111.28 449.21,109.35 451.10,107.54 452.99,105.82 454.88,104.20 456.77,102.67 458.66,101.21 460.55,99.83 462.44,98.51 464.33,97.26 466.22,96.07 468.11,94.93 470.00,93.84 471.89,92.80 473.78,91.81 475.67,90.85 477.56,89.94 479.45,89.06 481.34,88.21 483.23,87.40 485.12,86.62 487.01,85.87 488.90,85.15 490.79,84.45 492.68,83.78 494.57,83.13 496.46,82.50 498.35,81.90 500.24,81.31 502.13,80.74 504.02,80.19 505.91,79.66 507.80,79.15 509.69,78.65 511.58,78.16 513.47,77.69 515.36,77.23 517.25,76.79 519.14,76.36 521.03,75.94 522.92,75.53 524.81,75.14 526.70,74.75 528.59,74.38 530.48,74.01 532.37,73.65 534.26,73.31 536.15,72.97 538.04,72.64 539.93,72.32 541.82,72.00 543.71,71.70 545.60,71.40 547.49,71.10 549.38,70.82 551.27,70.54 553.16,70.27 555.05,70.00 556.94,69.74 558.83,69.48 560.72,69.23 562.61,68.99 564.50,68.75 566.39,68.52 568.28,68.29 570.17,68.06 572.06,67.84 573.95,67.63 575.84,67.42 577.73,67.21 579.62,67.01 581.51,66.81 583.40,66.61 585.29,66.42 587.18,66.23 589.07,66.05 590.96,65.87 592.85,65.69 594.74,65.51 596.63,65.34 598.52,65.17 600.41,65.01 602.30,64.85 604.19,64.69 606.08,64.53 607.97,64.37 609.86,64.22 611.75,64.07 613.64,63.93 615.53,63.78 617.42,63.64 619.31,63.50 621.20,63.36" stroke="#1A6FDF" stroke-width="0.9" stroke-linejoin="round"/>
<polyline points="409.52,206.90 411.41,196.60 413.30,187.32 415.19,178.98 417.08,171.48 418.97,164.73 420.86,158.64 422.75,153.12 424.64,148.09 426.53,143.51 428.42,139.31 430.31,135.45 432.20,131.89 434.09,128.60 435.98,125.55 437.87,122.72 439.76,120.08 441.65,117.61 443.54,115.30 445.43,113.14 447.32,111.11 449.21,109.19 451.10,107.39 452.99,105.68 454.88,104.07 456.77,102.54 458.66,101.10 460.55,99.72 462.44,98.41 464.33,97.16 466.22,95.98 468.11,94.84 470.00,93.76 471.89,92.72 473.78,91.73 475.67,90.78 477.56,89.87 479.45,88.99 481.34,88.15 483.23,87.34 485.12,86.57 487.01,85.82 488.90,85.10 490.79,84.40 492.68,83.73 494.57,83.08 496.46,82.46 498.35,81.85 500.24,81.27 502.13,80.70 504.02,80.15 505.91,79.62 507.80,79.11 509.69,78.61 511.58,78.13 513.47,77.66 515.36,77.20 517.25,76.76 519.14,76.33 521.03,75.91 522.92,75.50 524.81,75.11 526.70,74.72 528.59,74.35 530.48,73.98 532.37,73.63 534.26,73.28 536.15,72.94 538.04,72.62 539.93,72.29 541.82,71.98 543.71,71.67 545.60,71.38 547.49,71.08 549.38,70.80 551.27,70.52 553.16,70.25 555.05,69.98 556.94,69.72 558.83,69.47 560.72,69.22 562.61,68.97 564.50,68.73 566.39,68.50 568.28,68.27 570.17,68.05 572.06,67.83 573.95,67.61 575.84,67.40 577.73,67.19 579.62,66.99 581.51,66.79 583.40,66.60 585.29,66.41 587.18,66.22 589.07,66.03 590.96,65.85 592.85,65.68 594.74,65.50 596.63,65.33 598.52,65.16 600.41,65.00 602.30,64.83 604.19,64.68 606.08,64.52 607.97,64.36 609.86,64.21 611.75,64.06 613.64,63.92 615.53,63.77 617.42,63.63 619.31,63.49 621.20,63.35" stroke="#37AD6B" stroke-width="0.9" stroke-linejoin="round"/>
<polyline points="409.52,205.54 411.41,195.53 413.30,186.45 415.19,178.26 417.08,170.88 418.97,164.22 420.86,158.20 422.75,152.73 424.64,147.75 426.53,143.20 428.42,139.04 430.31,135.20 432.20,131.67 434.09,128.40 435.98,125.37 437.87,122.55 439.76,119.93 441.65,117.47 443.54,115.17 445.43,113.02 447.32,111.00 449.21,109.09 451.10,107.29 452.99,105.59 454.88,103.99 456.77,102.47 458.66,101.02 460.55,99.65 462.44,98.34 464.33,97.10 466.22,95.92 468.11,94.78 470.00,93.70 471.89,92.67 473.78,91.68 475.67,90.73 477.56,89.82 479.45,88.95 481.34,88.11 483.23,87.30 485.12,86.53 487.01,85.78 488.90,85.06 490.79,84.37 492.68,83.70 494.57,83.05 496.46,82.43 498.35,81.82 500.24,81.24 502.13,80.67 504.02,80.13 505.91,79.60 507.80,79.08 509.69,78.59 511.58,78.10 513.47,77.64 515.36,77.18 517.25,76.74 519.14,76.31 521.03,75.89 522.92,75.49 524.81,75.09 526.70,74.71 528.59,74.33 530.48,73.97 532.37,73.61 534.26,73.27 536.15,72.93 538.04,72.60 539.93,72.28 541.82,71.97 543.71,71.66 545.60,71.36 547.49,71.07 549.38,70.79 551.27,70.51 553.16,70.23 555.05,69.97 556.94,69.71 558.83,69.45 560.72,69.21 562.61,68.96 564.50,68.72 566.39,68.49 568.28,68.26 570.17,68.04 572.06,67.82 573.95,67.60 575.84,67.39 577.73,67.19 579.62,66.98 581.51,66.78 583.40,66.59 585.29,66.40 587.18,66.21 589.07,66.03 590.96,65.85 592.85,65.67 594.74,65.49 596.63,65.32 598.52,65.15 600.41,64.99 602.30,64.83 604.19,64.67 606.08,64.51 607.97,64.36 609.86,64.21 611.75,64.06 613.64,63.91 615.53,63.77 617.42,63.63 619.31,63.49 621.20,63.35" stroke="#B177DE" stroke-width="0.9" stroke-linejoin="round"/>
<polyline points="409.52,204.58 411.41,194.77 413.30,185.83 415.19,177.75 417.08,170.45 418.97,163.86 420.86,157.88 422.75,152.46 424.64,147.51 426.53,142.99 428.42,138.85 430.31,135.03 432.20,131.52 434.09,128.26 435.98,125.24 437.87,122.44 439.76,119.82 441.65,117.37 443.54,115.08 445.43,112.94 447.32,110.92 449.21,109.02 451.10,107.22 452.99,105.53 454.88,103.93 456.77,102.41 458.66,100.97 460.55,99.60 462.44,98.30 464.33,97.06 466.22,95.87 468.11,94.74 470.00,93.66 471.89,92.63 473.78,91.65 475.67,90.70 477.56,89.79 479.45,88.92 481.34,88.08 483.23,87.28 485.12,86.50 487.01,85.75 488.90,85.04 490.79,84.34 492.68,83.67 494.57,83.03 496.46,82.41 498.35,81.80 500.24,81.22 502.13,80.66 504.02,80.11 505.91,79.58 507.80,79.07 509.69,78.57 511.58,78.09 513.47,77.62 515.36,77.17 517.25,76.72 519.14,76.29 521.03,75.88 522.92,75.47 524.81,75.08 526.70,74.69 528.59,74.32 530.48,73.96 532.37,73.60 534.26,73.26 536.15,72.92 538.04,72.59 539.93,72.27 541.82,71.96 543.71,71.65 545.60,71.35 547.49,71.06 549.38,70.78 551.27,70.50 553.16,70.23 555.05,69.96 556.94,69.70 558.83,69.45 560.72,69.20 562.61,68.95 564.50,68.72 566.39,68.48 568.28,68.25 570.17,68.03 572.06,67.81 573.95,67.60 575.84,67.39 577.73,67.18 579.62,66.98 581.51,66.78 583.40,66.58 585.29,66.39 587.18,66.20 589.07,66.02 590.96,65.84 592.85,65.66 594.74,65.49 596.63,65.32 598.52,65.15 600.41,64.98 602.30,64.82 604.19,64.66 606.08,64.51 607.97,64.35 609.86,64.20 611.75,64.05 613.64,63.91 615.53,63.76 617.42,63.62 619.31,63.48 621.20,63.34" stroke="#CC9900" stroke-width="0.9" stroke-linejoin="round"/>
<polyline points="409.52,203.85 411.41,194.20 413.30,185.37 415.19,177.36 417.08,170.13 418.97,163.58 420.86,157.65 422.75,152.25 424.64,147.33 426.53,142.83 428.42,138.70 430.31,134.91 432.20,131.40 434.09,128.16 435.98,125.15 437.87,122.35 439.76,119.74 441.65,117.30 443.54,115.02 445.43,112.87 447.32,110.86 449.21,108.96 451.10,107.17 452.99,105.48 454.88,103.88 456.77,102.37 458.66,100.93 460.55,99.56 462.44,98.26 464.33,97.02 466.22,95.84 468.11,94.71 470.00,93.64 471.89,92.61 473.78,91.62 475.67,90.67 477.56,89.77 479.45,88.90 481.34,88.06 483.23,87.25 485.12,86.48 487.01,85.74 488.90,85.02 490.79,84.33 492.68,83.66 494.57,83.01 496.46,82.39 498.35,81.79 500.24,81.20 502.13,80.64 504.02,80.10 505.91,79.57 507.80,79.05 509.69,78.56 511.58,78.08 513.47,77.61 515.36,77.15 517.25,76.71 519.14,76.28 521.03,75.87 522.92,75.46 524.81,75.07 526.70,74.68 528.59,74.31 530.48,73.95 532.37,73.59 534.26,73.25 536.15,72.91 538.04,72.58 539.93,72.26 541.82,71.95 543.71,71.64 545.60,71.34 547.49,71.05 549.38,70.77 551.27,70.49 553.16,70.22 555.05,69.95 556.94,69.69 558.83,69.44 560.72,69.19 562.61,68.95 564.50,68.71 566.39,68.48 568.28,68.25 570.17,68.02 572.06,67.81 573.95,67.59 575.84,67.38 577.73,67.17 579.62,66.97 581.51,66.77 583.40,66.58 585.29,66.39 587.18,66.20 589.07,66.02 590.96,65.84 592.85,65.66 594.74,65.48 596.63,65.31 598.52,65.15 600.41,64.98 602.30,64.82 604.19,64.66 606.08,64.50 607.97,64.35 609.86,64.20 611.75,64.05 613.64,63.90 615.53,63.76 617.42,63.62 619.31,63.48 621.20,63.34" stroke="#00CBCC" stroke-width="0.9" stroke-linejoin="round"/>
<polyline points="409.52,203.29 411.41,193.75 413.30,185.00 415.19,177.07 417.08,169.88 418.97,163.37 420.86,157.46 422.75,152.09 424.64,147.19 426.53,142.71 428.42,138.59 430.31,134.80 432.20,131.31 434.09,128.07 435.98,125.07 437.87,122.28 439.76,119.67 441.65,117.24 443.54,114.96 445.43,112.82 447.32,110.81 449.21,108.92 451.10,107.13 452.99,105.44 454.88,103.85 456.77,102.33 458.66,100.90 460.55,99.53 462.44,98.23 464.33,97.00 466.22,95.82 468.11,94.69 470.00,93.61 471.89,92.58 473.78,91.60 475.67,90.65 477.56,89.75 479.45,88.88 481.34,88.04 483.23,87.24 485.12,86.47 487.01,85.72 488.90,85.00 490.79,84.31 492.68,83.64 494.57,83.00 496.46,82.38 498.35,81.77 500.24,81.19 502.13,80.63 504.02,80.08 505.91,79.56 507.80,79.04 509.69,78.55 511.58,78.07 513.47,77.60 515.36,77.14 517.25,76.70 519.14,76.28 521.03,75.86 522.92,75.45 524.81,75.06 526.70,74.68 528.59,74.30 530.48,73.94 532.37,73.59 534.26,73.24 536.15,72.90 538.04,72.57 539.93,72.25 541.82,71.94 543.71,71.64 545.60,71.34 547.49,71.05 549.38,70.76 551.27,70.49 553.16,70.21 555.05,69.95 556.94,69.69 558.83,69.44 560.72,69.19 562.61,68.94 564.50,68.71 566.39,68.47 568.28,68.24 570.17,68.02 572.06,67.80 573.95,67.59 575.84,67.38 577.73,67.17 579.62,66.97 581.51,66.77 583.40,66.57 585.29,66.38 587.18,66.20 589.07,66.01 590.96,65.83 592.85,65.66 594.74,65.48 596.63,65.31 598.52,65.14 600.41,64.98 602.30,64.82 604.19,64.66 606.08,64.50 607.97,64.35 609.86,64.19 611.75,64.05 613.64,63.90 615.53,63.76 617.42,63.61 619.31,63.48 621.20,63.34" stroke="#7D4E4E" stroke-width="0.9" stroke-linejoin="round"/>
<polyline points="409.52,202.83 411.41,193.39 413.30,184.71 415.19,176.82 417.08,169.67 418.97,163.19 420.86,157.31 422.75,151.96 424.64,147.07 426.53,142.60 428.42,138.50 430.31,134.72 432.20,131.24 434.09,128.01 435.98,125.01 437.87,122.22 439.76,119.62 441.65,117.19 443.54,114.92 445.43,112.78 447.32,110.77 449.21,108.88 451.10,107.10 452.99,105.41 454.88,103.82 456.77,102.31 458.66,100.87 460.55,99.51 462.44,98.21 464.33,96.97 466.22,95.80 468.11,94.67 470.00,93.60 471.89,92.57 473.78,91.58 475.67,90.64 477.56,89.73 479.45,88.86 481.34,88.03 483.23,87.23 485.12,86.45 487.01,85.71 488.90,84.99 490.79,84.30 492.68,83.63 494.57,82.99 496.46,82.37 498.35,81.77 500.24,81.18 502.13,80.62 504.02,80.08 505.91,79.55 507.80,79.04 509.69,78.54 511.58,78.06 513.47,77.59 515.36,77.14 517.25,76.70 519.14,76.27 521.03,75.85 522.92,75.45 524.81,75.05 526.70,74.67 528.59,74.30 530.48,73.93 532.37,73.58 534.26,73.23 536.15,72.90 538.04,72.57 539.93,72.25 541.82,71.94 543.71,71.63 545.60,71.33 547.49,71.04 549.38,70.76 551.27,70.48 553.16,70.21 555.05,69.94 556.94,69.69 558.83,69.43 560.72,69.18 562.61,68.94 564.50,68.70 566.39,68.47 568.28,68.24 570.17,68.02 572.06,67.80 573.95,67.58 575.84,67.37 577.73,67.17 579.62,66.96 581.51,66.77 583.40,66.57 585.29,66.38 587.18,66.19 589.07,66.01 590.96,65.83 592.85,65.65 594.74,65.48 596.63,65.31 598.52,65.14 600.41,64.98 602.30,64.81 604.19,64.65 606.08,64.50 607.97,64.34 609.86,64.19 611.75,64.04 613.64,63.90 615.53,63.75 617.42,63.61 619.31,63.47 621.20,63.34" stroke="#8E8E00" stroke-width="0.9" stroke-linejoin="round"/>
<polyline points="409.52,202.45 411.41,193.09 413.30,184.47 415.19,176.62 417.08,169.50 418.97,163.05 420.86,157.19 422.75,151.85 424.64,146.98 426.53,142.52 428.42,138.43 430.31,134.66 432.20,131.18 434.09,127.95 435.98,124.96 437.87,122.18 439.76,119.58 441.65,117.16 443.54,114.88 445.43,112.75 447.32,110.74 449.21,108.85 451.10,107.07 452.99,105.39 454.88,103.79 456.77,102.28 458.66,100.85 460.55,99.49 462.44,98.19 464.33,96.96 466.22,95.78 468.11,94.65 470.00,93.58 471.89,92.55 473.78,91.57 475.67,90.62 477.56,89.72 479.45,88.85 481.34,88.02 483.23,87.21 485.12,86.44 487.01,85.70 488.90,84.98 490.79,84.29 492.68,83.62 494.57,82.98 496.46,82.36 498.35,81.76 500.24,81.18 502.13,80.61 504.02,80.07 505.91,79.54 507.80,79.03 509.69,78.53 511.58,78.05 513.47,77.59 515.36,77.13 517.25,76.69 519.14,76.26 521.03,75.85 522.92,75.44 524.81,75.05 526.70,74.67 528.59,74.29 530.48,73.93 532.37,73.58 534.26,73.23 536.15,72.89 538.04,72.57 539.93,72.25 541.82,71.93 543.71,71.63 545.60,71.33 547.49,71.04 549.38,70.76 551.27,70.48 553.16,70.21 555.05,69.94 556.94,69.68 558.83,69.43 560.72,69.18 562.61,68.94 564.50,68.70 566.39,68.47 568.28,68.24 570.17,68.01 572.06,67.80 573.95,67.58 575.84,67.37 577.73,67.16 579.62,66.96 581.51,66.76 583.40,66.57 585.29,66.38 587.18,66.19 589.07,66.01 590.96,65.83 592.85,65.65 594.74,65.48 596.63,65.31 598.52,65.14 600.41,64.97 602.30,64.81 604.19,64.65 606.08,64.50 607.97,64.34 609.86,64.19 611.75,64.04 613.64,63.90 615.53,63.75 617.42,63.61 619.31,63.47 621.20,63.33" stroke="#FB6501" stroke-width="0.9" stroke-linejoin="round"/>
<polyline points="409.52,202.13 411.41,192.83 413.30,184.26 415.19,176.45 417.08,169.36 418.97,162.93 420.86,157.08 422.75,151.76 424.64,146.90 426.53,142.45 428.42,138.36 430.31,134.60 432.20,131.12 434.09,127.91 435.98,124.92 437.87,122.14 439.76,119.55 441.65,117.12 443.54,114.85 445.43,112.72 447.32,110.72 449.21,108.83 451.10,107.05 452.99,105.37 454.88,103.77 456.77,102.26 458.66,100.83 460.55,99.47 462.44,98.18 464.33,96.94 466.22,95.76 468.11,94.64 470.00,93.57 471.89,92.54 473.78,91.56 475.67,90.61 477.56,89.71 479.45,88.84 481.34,88.01 483.23,87.20 485.12,86.43 487.01,85.69 488.90,84.97 490.79,84.28 492.68,83.62 494.57,82.97 496.46,82.35 498.35,81.75 500.24,81.17 502.13,80.61 504.02,80.06 505.91,79.53 507.80,79.02 509.69,78.53 511.58,78.05 513.47,77.58 515.36,77.13 517.25,76.69 519.14,76.26 521.03,75.84 522.92,75.44 524.81,75.04 526.70,74.66 528.59,74.29 530.48,73.93 532.37,73.57 534.26,73.23 536.15,72.89 538.04,72.56 539.93,72.24 541.82,71.93 543.71,71.63 545.60,71.33 547.49,71.04 549.38,70.75 551.27,70.48 553.16,70.20 555.05,69.94 556.94,69.68 558.83,69.43 560.72,69.18 562.61,68.93 564.50,68.70 566.39,68.46 568.28,68.24 570.17,68.01 572.06,67.79 573.95,67.58 575.84,67.37 577.73,67.16 579.62,66.96 581.51,66.76 583.40,66.57 585.29,66.38 587.18,66.19 589.07,66.01 590.96,65.83 592.85,65.65 594.74,65.47 596.63,65.30 598.52,65.14 600.41,64.97 602.30,64.81 604.19,64.65 606.08,64.49 607.97,64.34 609.86,64.19 611.75,64.04 613.64,63.89 615.53,63.75 617.42,63.61 619.31,63.47 621.20,63.33" stroke="#6699CC" stroke-width="0.9" stroke-linejoin="round"/>
<polyline points="409.52,201.86 411.41,192.62 413.30,184.09 415.19,176.31 417.08,169.24 418.97,162.82 420.86,156.99 422.75,151.68 424.64,146.83 426.53,142.39 428.42,138.31 430.31,134.55 432.20,131.08 434.09,127.87 435.98,124.88 437.87,122.11 439.76,119.52 441.65,117.09 443.54,114.83 445.43,112.70 447.32,110.70 449.21,108.81 451.10,107.03 452.99,105.35 454.88,103.76 456.77,102.25 458.66,100.82 460.55,99.46 462.44,98.16 464.33,96.93 466.22,95.75 468.11,94.63 470.00,93.56 471.89,92.53 473.78,91.55 475.67,90.60 477.56,89.70 479.45,88.83 481.34,88.00 483.23,87.20 485.12,86.43 487.01,85.68 488.90,84.97 490.79,84.28 492.68,83.61 494.57,82.97 496.46,82.35 498.35,81.74 500.24,81.16 502.13,80.60 504.02,80.06 505.91,79.53 507.80,79.02 509.69,78.52 511.58,78.04 513.47,77.58 515.36,77.12 517.25,76.68 519.14,76.25 521.03,75.84 522.92,75.43 524.81,75.04 526.70,74.66 528.59,74.29 530.48,73.92 532.37,73.57 534.26,73.22 536.15,72.89 538.04,72.56 539.93,72.24 541.82,71.93 543.71,71.62 545.60,71.32 547.49,71.03 549.38,70.75 551.27,70.47 553.16,70.20 555.05,69.94 556.94,69.68 558.83,69.42 560.72,69.18 562.61,68.93 564.50,68.69 566.39,68.46 568.28,68.23 570.17,68.01 572.06,67.79 573.95,67.58 575.84,67.37 577.73,67.16 579.62,66.96 581.51,66.76 583.40,66.57 585.29,66.38 587.18,66.19 589.07,66.00 590.96,65.82 592.85,65.65 594.74,65.47 596.63,65.30 598.52,65.13 600.41,64.97 602.30,64.81 604.19,64.65 606.08,64.49 607.97,64.34 609.86,64.19 611.75,64.04 613.64,63.89 615.53,63.75 617.42,63.61 619.31,63.47 621.20,63.33" stroke="#6FB802" stroke-width="0.9" stroke-linejoin="round"/>
<polyline points="409.52,201.62 411.41,192.43 413.30,183.94 415.19,176.18 417.08,169.14 418.97,162.74 420.86,156.92 422.75,151.61 424.64,146.77 426.53,142.34 428.42,138.26 430.31,134.51 432.20,131.04 434.09,127.83 435.98,124.85 437.87,122.08 439.76,119.49 441.65,117.07 443.54,114.80 445.43,112.68 447.32,110.68 449.21,108.79 451.10,107.01 452.99,105.33 454.88,103.74 456.77,102.23 458.66,100.80 460.55,99.44 462.44,98.15 464.33,96.92 466.22,95.74 468.11,94.62 470.00,93.55 471.89,92.52 473.78,91.54 475.67,90.60 477.56,89.69 479.45,88.82 481.34,87.99 483.23,87.19 485.12,86.42 487.01,85.68 488.90,84.96 490.79,84.27 492.68,83.60 494.57,82.96 496.46,82.34 498.35,81.74 500.24,81.16 502.13,80.60 504.02,80.05 505.91,79.53 507.80,79.01 509.69,78.52 511.58,78.04 513.47,77.57 515.36,77.12 517.25,76.68 519.14,76.25 521.03,75.84 522.92,75.43 524.81,75.04 526.70,74.65 528.59,74.28 530.48,73.92 532.37,73.57 534.26,73.22 536.15,72.88 538.04,72.56 539.93,72.24 541.82,71.92 543.71,71.62 545.60,71.32 547.49,71.03 549.38,70.75 551.27,70.47 553.16,70.20 555.05,69.93 556.94,69.67 558.83,69.42 560.72,69.17 562.61,68.93 564.50,68.69 566.39,68.46 568.28,68.23 570.17,68.01 572.06,67.79 573.95,67.58 575.84,67.36 577.73,67.16 579.62,66.96 581.51,66.76 583.40,66.56 585.29,66.37 587.18,66.19 589.07,66.00 590.96,65.82 592.85,65.65 594.74,65.47 596.63,65.30 598.52,65.13 600.41,64.97 602.30,64.81 604.19,64.65 606.08,64.49 607.97,64.34 609.86,64.19 611.75,64.04 613.64,63.89 615.53,63.75 617.42,63.61 619.31,63.47 621.20,63.33" stroke="#515151" stroke-width="0.9" stroke-linejoin="round"/>
<polyline points="409.52,201.41 411.41,192.27 413.30,183.80 415.19,176.07 417.08,169.04 418.97,162.66 420.86,156.85 422.75,151.56 424.64,146.72 426.53,142.29 428.42,138.22 430.31,134.47 432.20,131.01 434.09,127.80 435.98,124.82 437.87,122.05 439.76,119.47 441.65,117.05 443.54,114.78 445.43,112.66 447.32,110.66 449.21,108.78 451.10,107.00 452.99,105.32 454.88,103.73 456.77,102.22 458.66,100.79 460.55,99.43 462.44,98.14 464.33,96.91 466.22,95.73 468.11,94.61 470.00,93.54 471.89,92.51 473.78,91.53 475.67,90.59 477.56,89.69 479.45,88.82 481.34,87.99 483.23,87.18 485.12,86.41 487.01,85.67 488.90,84.96 490.79,84.27 492.68,83.60 494.57,82.96 496.46,82.34 498.35,81.74 500.24,81.15 502.13,80.59 504.02,80.05 505.91,79.52 507.80,79.01 509.69,78.52 511.58,78.03 513.47,77.57 515.36,77.12 517.25,76.68 519.14,76.25 521.03,75.83 522.92,75.43 524.81,75.04 526.70,74.65 528.59,74.28 530.48,73.92 532.37,73.56 534.26,73.22 536.15,72.88 538.04,72.55 539.93,72.23 541.82,71.92 543.71,71.62 545.60,71.32 547.49,71.03 549.38,70.75 551.27,70.47 553.16,70.20 555.05,69.93 556.94,69.67 558.83,69.42 560.72,69.17 562.61,68.93 564.50,68.69 566.39,68.46 568.28,68.23 570.17,68.01 572.06,67.79 573.95,67.57 575.84,67.36 577.73,67.16 579.62,66.96 581.51,66.76 583.40,66.56 585.29,66.37 587.18,66.19 589.07,66.00 590.96,65.82 592.85,65.64 594.74,65.47 596.63,65.30 598.52,65.13 600.41,64.97 602.30,64.81 604.19,64.65 606.08,64.49 607.97,64.34 609.86,64.19 611.75,64.04 613.64,63.89 615.53,63.75 617.42,63.61 619.31,63.47 621.20,63.33" stroke="#F14040" stroke-width="0.9" stroke-linejoin="round"/>
<polyline points="409.52,201.23 411.41,192.12 413.30,183.69 415.19,175.98 417.08,168.96 418.97,162.59 420.86,156.79 422.75,151.50 424.64,146.67 426.53,142.25 428.42,138.18 430.31,134.44 432.20,130.98 434.09,127.78 435.98,124.80 437.87,122.03 439.76,119.45 441.65,117.03 443.54,114.77 445.43,112.64 447.32,110.64 449.21,108.76 451.10,106.99 452.99,105.31 454.88,103.72 456.77,102.21 458.66,100.78 460.55,99.42 462.44,98.13 464.33,96.90 466.22,95.72 468.11,94.60 470.00,93.53 471.89,92.51 473.78,91.52 475.67,90.58 477.56,89.68 479.45,88.81 481.34,87.98 483.23,87.18 485.12,86.41 487.01,85.67 488.90,84.95 490.79,84.26 492.68,83.60 494.57,82.95 496.46,82.33 498.35,81.73 500.24,81.15 502.13,80.59 504.02,80.05 505.91,79.52 507.80,79.01 509.69,78.51 511.58,78.03 513.47,77.57 515.36,77.11 517.25,76.67 519.14,76.25 521.03,75.83 522.92,75.43 524.81,75.03 526.70,74.65 528.59,74.28 530.48,73.91 532.37,73.56 534.26,73.22 536.15,72.88 538.04,72.55 539.93,72.23 541.82,71.92 543.71,71.62 545.60,71.32 547.49,71.03 549.38,70.74 551.27,70.47 553.16,70.20 555.05,69.93 556.94,69.67 558.83,69.42 560.72,69.17 562.61,68.93 564.50,68.69 566.39,68.46 568.28,68.23 570.17,68.01 572.06,67.79 573.95,67.57 575.84,67.36 577.73,67.16 579.62,66.95 581.51,66.76 583.40,66.56 585.29,66.37 587.18,66.18 589.07,66.00 590.96,65.82 592.85,65.64 594.74,65.47 596.63,65.30 598.52,65.13 600.41,64.97 602.30,64.80 604.19,64.65 606.08,64.49 607.97,64.34 609.86,64.18 611.75,64.04 613.64,63.89 615.53,63.75 617.42,63.61 619.31,63.47 621.20,63.33" stroke="#1A6FDF" stroke-width="1.35" stroke-linejoin="round"/>
<path d="M394.40 45.90 V244.20 H640.60" stroke="#333" stroke-width="1.0"/>
<path d="M394.40 244.20v4.0M413.30 244.20v2.2M432.20 244.20v4.0M451.10 244.20v2.2M470.00 244.20v4.0M488.90 244.20v2.2M507.80 244.20v4.0M526.70 244.20v2.2M545.60 244.20v4.0M564.50 244.20v2.2M583.40 244.20v4.0M602.30 244.20v2.2M621.20 244.20v4.0M640.10 244.20v2.2M394.40 231.10h-4.0M394.40 217.91h-2.2M394.40 204.71h-4.0M394.40 191.52h-2.2M394.40 178.33h-4.0M394.40 165.14h-2.2M394.40 151.94h-4.0M394.40 138.75h-2.2M394.40 125.56h-4.0M394.40 112.36h-2.2M394.40 99.17h-4.0M394.40 85.98h-2.2M394.40 72.79h-4.0M394.40 59.59h-2.2M394.40 46.40h-4.0" stroke="#333" stroke-width="0.9"/>
<rect x="642.2" y="44.7" width="50" height="185.6" stroke="#8c8c8c" stroke-width="0.8" fill="#fff"/>
<line x1="644.2" x2="666.4" y1="52.00" y2="52.00" stroke="#515151" stroke-width="0.95"/>
<line x1="644.2" x2="666.4" y1="63.50" y2="63.50" stroke="#F14040" stroke-width="0.95"/>
<line x1="644.2" x2="666.4" y1="76.50" y2="76.50" stroke="#1A6FDF" stroke-width="0.95"/>
<line x1="644.2" x2="666.4" y1="88.30" y2="88.30" stroke="#37AD6B" stroke-width="0.95"/>
<line x1="644.2" x2="666.4" y1="100.50" y2="100.50" stroke="#B177DE" stroke-width="0.95"/>
<line x1="644.2" x2="666.4" y1="113.00" y2="113.00" stroke="#CC9900" stroke-width="0.95"/>
<line x1="644.2" x2="666.4" y1="125.00" y2="125.00" stroke="#00CBCC" stroke-width="0.95"/>
<line x1="644.2" x2="666.4" y1="137.50" y2="137.50" stroke="#7D4E4E" stroke-width="0.95"/>
<line x1="644.2" x2="666.4" y1="149.80" y2="149.80" stroke="#8E8E00" stroke-width="0.95"/>
<line x1="644.2" x2="666.4" y1="162.20" y2="162.20" stroke="#FB6501" stroke-width="0.95"/>
<line x1="644.2" x2="666.4" y1="174.50" y2="174.50" stroke="#6699CC" stroke-width="0.95"/>
<line x1="644.2" x2="666.4" y1="187.00" y2="187.00" stroke="#6FB802" stroke-width="0.95"/>
<line x1="644.2" x2="666.4" y1="199.50" y2="199.50" stroke="#515151" stroke-width="0.95"/>
<line x1="644.2" x2="666.4" y1="211.50" y2="211.50" stroke="#F14040" stroke-width="0.95"/>
<line x1="644.2" x2="666.4" y1="224.00" y2="224.00" stroke="#1A6FDF" stroke-width="1.3"/>
</g>
<g font-family="'Liberation Serif', 'Noto Serif CJK SC', serif" font-size="11.2" fill="#111">
<text x="367.20 372.50 377.80 383.10" y="234.70">0.65</text>
<text x="367.20 372.50 377.80 383.10" y="208.31">0.70</text>
<text x="367.20 372.50 377.80 383.10" y="181.93">0.75</text>
<text x="367.20 372.50 377.80 383.10" y="155.54">0.80</text>
<text x="367.20 372.50 377.80 383.10" y="129.16">0.85</text>
<text x="367.20 372.50 377.80 383.10" y="102.77">0.90</text>
<text x="367.20 372.50 377.80 383.10" y="76.39">0.95</text>
<text x="367.20 372.50 377.80 383.10" y="50.00">1.00</text>
<text x="391.75" y="260.00">0</text>
<text x="429.55" y="260.00">5</text>
<text x="464.70 470.00" y="260.00">10</text>
<text x="502.50 507.80" y="260.00">15</text>
<text x="540.30 545.60" y="260.00">20</text>
<text x="578.10 583.40" y="260.00">25</text>
<text x="615.90 621.20" y="260.00">30</text>
<text x="672.00" y="55.10">2</text>
<text x="672.00" y="67.40">4</text>
<text x="672.00" y="79.70">6</text>
<text x="672.00" y="92.00">8</text>
<text x="672.00 677.30" y="104.30">10</text>
<text x="672.00 677.30" y="116.60">12</text>
<text x="672.00 677.30" y="128.90">14</text>
<text x="672.00 677.30" y="141.20">16</text>
<text x="672.00 677.30" y="153.50">18</text>
<text x="672.00 677.30" y="165.80">20</text>
<text x="672.00 677.30" y="178.10">22</text>
<text x="672.00 677.30" y="190.40">24</text>
<text x="672.00 677.30" y="202.70">26</text>
<text x="672.00 677.30" y="215.00">28</text>
<text x="672.00 677.30" y="227.30">30</text>
</g>
<g font-family="'Liberation Serif', serif" font-weight="bold" fill="#111">
<text x="512.3" y="274.9" font-size="10.8">k<tspan font-size="6.6" dy="3.0" dx="0">A</tspan></text>
<text x="658.3" y="39.7" font-size="10.8">k<tspan font-size="6.6" dy="3.0" dx="0">B</tspan></text>
</g>
<g font-family="'Liberation Sans', sans-serif" fill="#111" stroke="#111" stroke-width="0.35" transform="translate(357.5 145.4) rotate(-90)">
<text x="0" y="0" font-size="11">ρ</text><text x="6.0" y="-4.6" font-size="8.2" stroke-width="0.25">A</text><text x="6.0" y="3.2" font-size="7.5" stroke-width="0.1" font-family="DejaVu Sans, sans-serif">∞</text>
</g>
<g font-family="'Liberation Serif', 'Times New Roman', serif" fill="#000" font-size="16.4">
<text x="14.20" y="333.7">(a)</text>
<text x="38.70" y="333.7">Variation</text>
<text x="105.50" y="333.7">of</text>
<text transform="translate(127.44 334.17) scale(1.302 1)" font-size="16.32" font-style="italic">ρ</text><text transform="translate(139.52 327.30) scale(0.824 1)" font-size="10.30" font-style="italic">A</text><text transform="translate(136.27 338.39) scale(1.382 1)" font-size="7.89" >∞</text>
<text x="151.60" y="333.7">with</text>
<text transform="translate(186.40 337.79) scale(0.931 1)" font-size="23.93" font-family="DejaVu Sans, sans-serif" stroke="#fff" stroke-width="0.55">⟨</text>
<text transform="translate(193.69 334.70) scale(0.993 1)" font-size="17.10" font-style="italic" stroke="#000" stroke-width="0.25">k</text><text transform="translate(202.86 338.90) scale(0.953 1)" font-size="9.70" font-style="italic">A</text>
<text transform="translate(209.02 337.79) scale(0.931 1)" font-size="23.93" font-family="DejaVu Sans, sans-serif" stroke="#fff" stroke-width="0.55">⟩</text>
<text x="222.80" y="333.7">and</text>
<text transform="translate(253.10 337.79) scale(0.931 1)" font-size="23.93" font-family="DejaVu Sans, sans-serif" stroke="#fff" stroke-width="0.55">⟨</text>
<text transform="translate(260.39 334.70) scale(0.993 1)" font-size="17.10" font-style="italic" stroke="#000" stroke-width="0.25">k</text><text transform="translate(269.20 338.90) scale(1.066 1)" font-size="9.70" font-style="italic">B</text>
<text transform="translate(275.02 337.79) scale(0.931 1)" font-size="23.93" font-family="DejaVu Sans, sans-serif" stroke="#fff" stroke-width="0.55">⟩</text>
<text x="336.00" y="328.6">(b)</text>
<text x="360.50" y="328.6">Variation</text>
<text x="427.30" y="328.6">of</text>
<text transform="translate(449.44 329.07) scale(1.302 1)" font-size="16.32" font-style="italic">ρ</text><text transform="translate(461.52 322.20) scale(0.824 1)" font-size="10.30" font-style="italic">A</text><text transform="translate(458.27 333.29) scale(1.382 1)" font-size="7.89" >∞</text>
<text x="474.00" y="328.6">with</text>
<text transform="translate(504.60 332.69) scale(0.931 1)" font-size="23.93" font-family="DejaVu Sans, sans-serif" stroke="#fff" stroke-width="0.55">⟨</text>
<text transform="translate(511.49 329.60) scale(0.993 1)" font-size="17.10" font-style="italic" stroke="#000" stroke-width="0.25">k</text><text transform="translate(520.66 333.80) scale(0.953 1)" font-size="9.70" font-style="italic">A</text>
<text transform="translate(526.82 332.69) scale(0.931 1)" font-size="23.93" font-family="DejaVu Sans, sans-serif" stroke="#fff" stroke-width="0.55">⟩</text>
<text x="537.20" y="328.6">under</text>
<text x="579.4" y="328.6" letter-spacing="0.15" style="font-variant-ligatures:none">different</text>
<text transform="translate(637.80 332.69) scale(0.931 1)" font-size="23.93" font-family="DejaVu Sans, sans-serif" stroke="#fff" stroke-width="0.55">⟨</text>
<text transform="translate(645.49 329.60) scale(0.993 1)" font-size="17.10" font-style="italic" stroke="#000" stroke-width="0.25">k</text><text transform="translate(654.30 333.80) scale(1.066 1)" font-size="9.70" font-style="italic">B</text>
<text transform="translate(660.22 332.69) scale(0.931 1)" font-size="23.93" font-family="DejaVu Sans, sans-serif" stroke="#fff" stroke-width="0.55">⟩</text>
</g>
</svg>
</body></html>
